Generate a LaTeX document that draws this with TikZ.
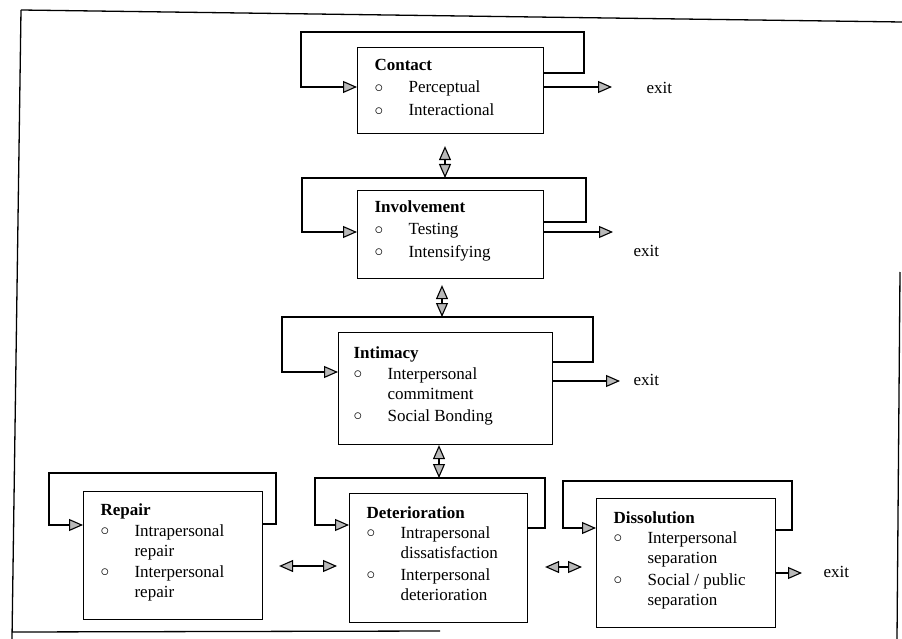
\documentclass[tikz,border=0pt]{standalone}
\usepackage{fontspec}
\setmainfont{Liberation Serif}
\usetikzlibrary{arrows.meta}
\newcommand{\bul}{\makebox[34pt][l]{\raisebox{0.8pt}{\fontsize{16}{16}\selectfont$\circ$}}}
\newcommand{\ind}{\hspace*{34pt}}
\begin{document}
\begin{tikzpicture}[x=1pt,y=-1pt,
  line width=1.1pt,
  >={Triangle[length=14pt,width=12pt,fill=gray!55]},
  box/.style={draw,rectangle,anchor=north west,inner sep=0pt},
  txt/.style={anchor=base west,inner sep=0pt,font=\fontsize{17}{20}\selectfont},
  exitlbl/.style={anchor=west,inner sep=0pt,font=\fontsize{17}{20}\selectfont},
  loopline/.style={->},
  dbl/.style={<->}]
\useasboundingbox (0,0) rectangle (902,639);
% frame
\draw[line width=1.3pt] (21,10) -- (902,22);
\draw[line width=1.3pt] (21,10) -- (12,639);
\draw[line width=1.3pt] (12,632) -- (440,631);
\draw[line width=1.3pt] (900,272) -- (897,639);

% boxes
\node[box,minimum width=186pt,minimum height=86pt]  (contact) at (357,47) {};
\node[box,minimum width=186pt,minimum height=88pt]  (invol)   at (357,190) {};
\node[box,minimum width=214pt,minimum height=112pt] (intim)   at (338,332) {};
\node[box,minimum width=179pt,minimum height=128pt] (repair)  at (83,491) {};
\node[box,minimum width=178pt,minimum height=129pt] (deter)   at (349,493) {};
\node[box,minimum width=179pt,minimum height=129pt] (dissol)  at (596,498) {};

% texts
\node[txt] (tcontact) at (374,71) {\begin{tabular}[t]{@{}l@{}}\textbf{Contact}\\[2pt]
  \bul Perceptual\\[3pt] \bul Interactional\end{tabular}};
\node[txt] (tinvol) at (374,213) {\begin{tabular}[t]{@{}l@{}}\textbf{Involvement}\\[2pt]
  \bul Testing\\[2pt] \bul Intensifying\end{tabular}};
\node[txt] (tintim) at (353,358) {\begin{tabular}[t]{@{}l@{}}\textbf{Intimacy}\\[1pt]
  \bul Interpersonal\\ \ind commitment\\[2pt] \bul Social Bonding\end{tabular}};
\node[txt] (trepair) at (100,515) {\begin{tabular}[t]{@{}l@{}}\textbf{Repair}\\[1pt]
  \bul Intrapersonal\\ \ind repair\\[1pt] \bul Interpersonal\\ \ind repair\end{tabular}};
\node[txt] (tdeter) at (366,518) {\begin{tabular}[t]{@{}l@{}}\textbf{Deterioration}\\
  \bul Intrapersonal\\ \ind dissatisfaction\\[2pt] \bul Interpersonal\\ \ind deterioration\end{tabular}};
\node[txt] (tdissol) at (613,523) {\begin{tabular}[t]{@{}l@{}}\textbf{Dissolution}\\
  \bul Interpersonal\\ \ind separation\\[2pt] \bul Social / public\\ \ind separation\end{tabular}};

% self loops
\draw[loopline] (contact.east |- 0,73) -| (584,32) -| (301,87) -- (contact.west |- 0,87);
\draw[loopline] (invol.east |- 0,222) -| (586,178) -| (302,232) -- (invol.west |- 0,232);
\draw[loopline] (intim.east |- 0,362) -| (593,317) -| (282,372) -- (intim.west |- 0,372);
\draw[loopline] (repair.east |- 0,524) -| (276,473) -| (49,525) -- (repair.west |- 0,525);
\draw[loopline] (deter.east |- 0,528) -| (545,478) -| (315,525) -- (deter.west |- 0,525);
\draw[loopline] (dissol.east |- 0,530) -| (792,481) -| (563,528) -- (dissol.west |- 0,528);

% exits
\coordinate (e1) at (612,87);
\coordinate (e2) at (613,232);
\coordinate (e3) at (620,381);
\coordinate (e4) at (802,573);
\draw[->] (contact.east |- e1) -- (e1);
\draw[->] (invol.east |- e2) -- (e2);
\draw[->] (intim.east |- e3) -- (e3);
\draw[->] (dissol.east |- e4) -- (e4);
\node[exitlbl] (x1) at (646,88) {exit};
\node[exitlbl] (x2) at (633,251) {exit};
\node[exitlbl] (x3) at (633,380) {exit};
\node[exitlbl] (x4) at (823,572) {exit};

% double arrows between stages
\coordinate (c1) at (445,178);
\coordinate (c2) at (442,317);
\coordinate (c3) at (439,478);
\draw[dbl,shorten <=12pt] (contact.south -| c1) -- (c1);
\draw[dbl,shorten <=6pt] (invol.south -| c2) -- (c2);
\draw[dbl] (intim.south -| c3) -- (c3);
\draw[dbl,shorten <=16pt,shorten >=12pt] (repair.east |- 0,566) -- (deter.west |- 0,566);
\draw[dbl,shorten <=17pt,shorten >=14pt] (deter.east |- 0,567) -- (dissol.west |- 0,567);
\end{tikzpicture}
\end{document}
